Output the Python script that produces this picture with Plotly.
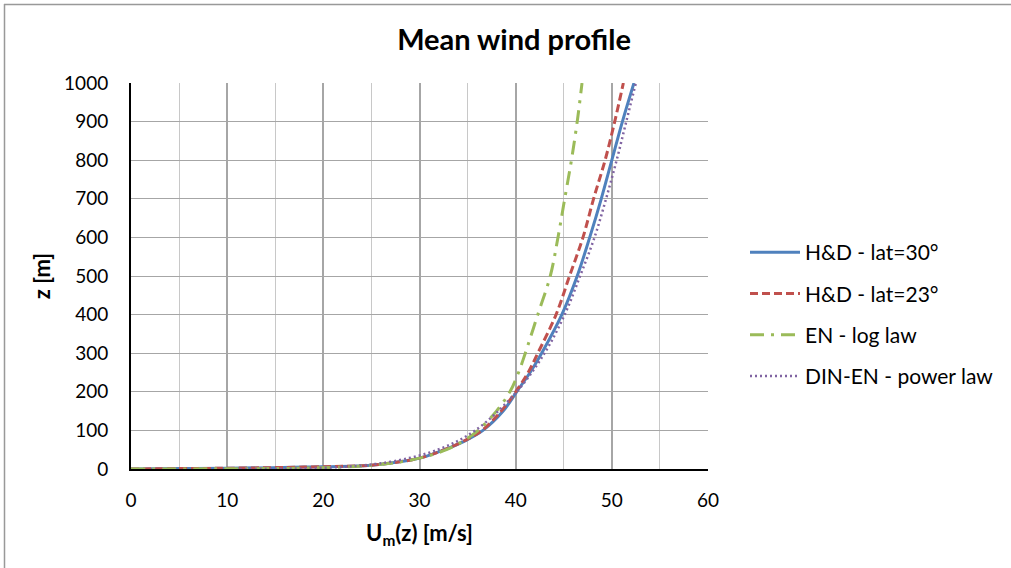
import plotly.graph_objects as go

# Heights [m]
z_hd = [0, 1, 2, 5, 10, 20, 30, 50, 75, 100, 150, 200, 250, 300, 400, 500, 600, 700, 800, 900, 1000]
# H&D - lat=30°
u_hd30 = [0, 5, 10, 18, 25, 28.3, 30.3, 32.6, 34.9, 36.6, 38.7, 40.1, 41.5, 42.7, 44.8, 46.4, 47.7, 48.9, 50.0, 51.1, 52.3]
# H&D - lat=23°
u_hd23 = [0, 5, 10, 18, 25, 28.3, 30.3, 32.6, 34.8, 36.5, 38.5, 40.0, 41.3, 42.3, 44.2, 45.6, 47.0, 48.1, 49.3, 50.3, 51.2]
# EN - log law
z_en = [0, 1, 2, 5, 10, 20, 30, 50, 75, 100, 150, 200, 250, 300, 400, 500, 600, 700, 800, 900, 1000]
u_en = [0, 14.1, 17.4, 21.8, 25.1, 28.4, 30.3, 32.8, 34.7, 36.1, 38.0, 39.4, 40.3, 41.0, 42.3, 43.6, 44.4, 45.1, 45.8, 46.4, 46.9]
# DIN-EN - power law
z_din = [0.1, 0.5, 1, 2, 5, 10, 20, 50, 100, 200, 300, 400, 500, 600, 700, 800, 900, 1000]
u_din = [11.3, 14.1, 16.5, 18.5, 21.7, 24.3, 27.3, 31.9, 35.8, 40.1, 43.0, 45.1, 46.7, 48.2, 49.4, 50.5, 51.5, 52.5]

names = ["H&D - lat=30°", "H&D - lat=23°", "EN - log law", "DIN-EN - power law"]
colors = ["#4F81BD", "#C0504D", "#9BBB59", "#8064A2"]

FONT = "Lato"

fig = go.Figure()
fig.add_trace(go.Scatter(x=u_hd30, y=z_hd, mode="lines", name=names[0], legendgroup="a",
                         line=dict(color=colors[0], width=3, shape="spline")))
fig.add_trace(go.Scatter(x=u_hd23, y=z_hd, mode="lines", name=names[1], legendgroup="b",
                         line=dict(color=colors[1], width=3, dash="8px,4px", shape="spline")))
fig.add_trace(go.Scatter(x=u_en, y=z_en, mode="lines", name=names[2], legendgroup="c",
                         line=dict(color=colors[2], width=3, dash="14px,7px,3px,7px", shape="spline")))
fig.add_trace(go.Scatter(x=u_din, y=z_din, mode="lines", name=names[3], legendgroup="d",
                         line=dict(color=colors[3], width=2.5, dash="2px,3px", shape="spline")))

W, H = 1011, 568
L, R, T, B = 131, 708, 83, 469
pw, ph = R - L, B - T

def px(xp):
    return (xp - L) / pw

def py(yp):
    return (B - yp) / ph

border = dict(color="#999999", width=1.5)

fig.update_layout(
    width=W, height=H,
    margin=dict(l=L, r=W - R, t=T, b=H - B, autoexpand=False),
    paper_bgcolor="white", plot_bgcolor="white",
    font=dict(family=FONT, size=19, color="black"),
    title=dict(text="<b>Mean wind profile</b>", x=514 / W, xref="container", xanchor="center",
               y=1 - 40 / H, yref="container", yanchor="middle",
               font=dict(family=FONT, size=29, color="black")),
    xaxis=dict(range=[0, 60], dtick=10, tick0=0, showgrid=True, gridcolor="#a6a6a6", gridwidth=1.5,
               minor=dict(dtick=5, showgrid=True, gridcolor="#c8c8c8", gridwidth=1),
               showline=True, linecolor="black", linewidth=2, zeroline=False,
               ticks="", ticklabelstandoff=13, automargin=False,
               title=dict(text="<b>U<sub>m</sub>(z) [m/s]</b>", font=dict(family=FONT, size=22), standoff=16)),
    yaxis=dict(range=[0, 1000], dtick=100, tick0=0, showgrid=True, gridcolor="#a6a6a6", gridwidth=1.2,
               showline=True, linecolor="black", linewidth=2, zeroline=False,
               ticks="", ticklabelstandoff=17, automargin=False,
               title=dict(text="<b>z [m]</b>", font=dict(family=FONT, size=22), standoff=7)),
    legend=dict(x=px(745), y=py(232), xanchor="left", yanchor="top",
                font=dict(family=FONT, size=21), itemwidth=50, tracegroupgap=11,
                bgcolor="rgba(0,0,0,0)"),
    showlegend=True,
    shapes=[
        dict(type="line", xref="paper", yref="paper", x0=px(4), x1=px(1011), y0=py(4.5), y1=py(4.5),
             line=border, layer="below"),
        dict(type="line", xref="paper", yref="paper", x0=px(4.5), x1=px(4.5), y0=py(4), y1=py(568),
             line=border, layer="below"),
    ],
)

fig.write_html("out.html", config={"displayModeBar": False},
               post_script="document.body.style.margin='0';document.body.style.overflow='hidden';")
